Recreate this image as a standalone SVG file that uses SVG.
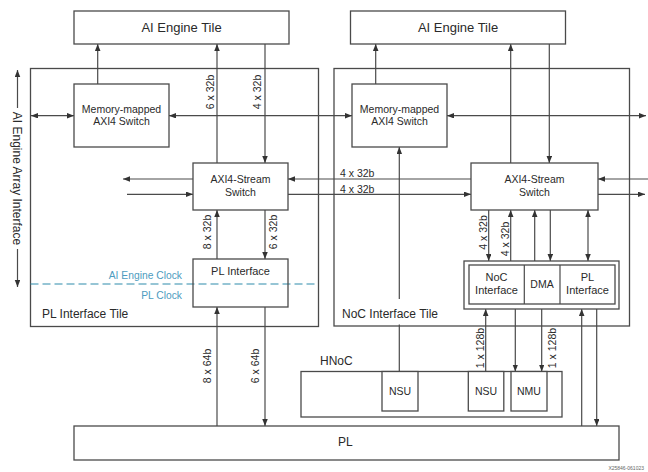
<svg xmlns="http://www.w3.org/2000/svg" width="648" height="472" viewBox="0 0 648 472">
<defs>
<marker id="ah" markerUnits="userSpaceOnUse" markerWidth="8" markerHeight="6" refX="7" refY="2.75" orient="auto-start-reverse"><path d="M0,0 L7,2.75 L0,5.5 z" fill="#333"/></marker>
</defs>
<style>
.box{fill:#fff;stroke:#4a4a4a;stroke-width:1.3}
.tile{fill:none;stroke:#4a4a4a;stroke-width:1.3}
.ln{fill:none;stroke:#4a4a4a;stroke-width:1.2}
.e{marker-end:url(#ah)}
.s{marker-start:url(#ah)}
text{font-family:"Liberation Sans",Arial,sans-serif;fill:#2a2a2a}
.c{text-anchor:middle}
.t13{font-size:13px}
.t12{font-size:12px}
.t11{font-size:11px}
.t10{font-size:10.5px}
.clk{font-size:10.3px;fill:#4d9cc0;text-anchor:end}
</style>
<rect width="648" height="472" fill="#fff"/>

<g id="pl-interface-tile"><rect class="tile" x="30.5" y="68.5" width="288" height="258"/><text class="t12" x="42" y="317.5">PL Interface Tile</text></g>
<g id="noc-interface-tile"><rect class="tile" x="334" y="68.5" width="295.5" height="257.5"/><text class="t12" x="342" y="318">NoC Interface Tile</text></g>

<g id="clock-boundary">
<line x1="30.5" y1="284" x2="318" y2="284" stroke="#2e8bab" stroke-width="1.1" stroke-dasharray="8,4"/>
<text class="clk" x="182" y="279.3">AI Engine Clock</text>
<text class="clk" x="182" y="299">PL Clock</text>
</g>

<g id="connectors">
<line class="ln e" x1="97.7" y1="84" x2="97.7" y2="44"/>
<line class="ln e" x1="217" y1="163" x2="217" y2="44"/>
<line class="ln e" x1="265" y1="44" x2="265" y2="163"/>
<line class="ln s e" x1="31" y1="115.7" x2="74" y2="115.7"/>
<line class="ln s e" x1="169" y1="115.7" x2="352" y2="115.7"/>
<line class="ln e" x1="193" y1="179" x2="123" y2="179"/>
<line class="ln e" x1="127" y1="194.3" x2="193" y2="194.3"/>
<line class="ln e" x1="471" y1="179" x2="288" y2="179"/>
<line class="ln e" x1="288" y1="194.3" x2="471" y2="194.3"/>
<line class="ln e" x1="217" y1="259" x2="217" y2="210"/>
<line class="ln e" x1="265" y1="210" x2="265" y2="259"/>
<line class="ln e" x1="217" y1="426" x2="217" y2="307"/>
<line class="ln e" x1="265" y1="307" x2="265" y2="426"/>
<line class="ln e" x1="375.7" y1="84" x2="375.7" y2="44"/>
<line class="ln e" x1="510.7" y1="163" x2="510.7" y2="44"/>
<line class="ln e" x1="549.3" y1="44" x2="549.3" y2="163"/>
<line class="ln s e" x1="447" y1="115.7" x2="646" y2="115.7"/>
<line class="ln e" x1="648" y1="179" x2="598" y2="179"/>
<line class="ln e" x1="598" y1="194.3" x2="645" y2="194.3"/>
<line class="ln e" x1="399.3" y1="299" x2="399.3" y2="147"/>
<line class="ln" x1="399.3" y1="324.5" x2="399.3" y2="371.5"/>
<line class="ln e" x1="488.7" y1="210" x2="488.7" y2="261"/>
<line class="ln e" x1="510.7" y1="261" x2="510.7" y2="210"/>
<line class="ln e" x1="534.7" y1="261" x2="534.7" y2="210"/>
<line class="ln e" x1="550.3" y1="210" x2="550.3" y2="261"/>
<line class="ln s e" x1="588" y1="210" x2="588" y2="261"/>
<line class="ln e" x1="485.7" y1="371.5" x2="485.7" y2="309"/>
<line class="ln e" x1="515.3" y1="309" x2="515.3" y2="371.5"/>
<line class="ln e" x1="541.7" y1="309" x2="541.7" y2="371.5"/>
<line class="ln e" x1="581.7" y1="426" x2="581.7" y2="309"/>
<line class="ln e" x1="596.7" y1="309" x2="596.7" y2="426"/>
<line class="ln s" x1="17.5" y1="70" x2="17.5" y2="108"/>
<line class="ln e" x1="17.5" y1="249" x2="17.5" y2="287"/>
</g>

<g id="labels">
<text class="t10 c" transform="translate(210,92) rotate(-90)" dy="3.7">6 x 32b</text>
<text class="t10 c" transform="translate(257,92) rotate(-90)" dy="3.7">4 x 32b</text>
<text class="t10 c" transform="translate(207,232) rotate(-90)" dy="3.7">8 x 32b</text>
<text class="t10 c" transform="translate(273,232) rotate(-90)" dy="3.7">6 x 32b</text>
<text class="t10 c" transform="translate(207.3,366) rotate(-90)" dy="3.7">8 x 64b</text>
<text class="t10 c" transform="translate(255.3,366) rotate(-90)" dy="3.7">6 x 64b</text>
<text class="t10" x="340" y="177">4 x 32b</text>
<text class="t10" x="340" y="192.5">4 x 32b</text>
<text class="t10 c" transform="translate(483,232.5) rotate(-90)" dy="3.7">4 x 32b</text>
<text class="t10 c" transform="translate(505,239) rotate(-90)" dy="3.7">4 x 32b</text>
<text class="t10 c" transform="translate(480,348) rotate(-90)" dy="3.7">1 x 128b</text>
<text class="t10 c" transform="translate(552.7,348) rotate(-90)" dy="3.7">1 x 128b</text>
<text class="t12 c" transform="translate(17.5,178.5) rotate(90)" dy="4.2">AI Engine Array Interface</text>
</g>

<g id="ai-engine-tile-left"><rect class="box" x="74" y="11" width="215" height="33"/><text class="t13 c" x="181.5" y="31.5">AI Engine Tile</text></g>
<g id="ai-engine-tile-right"><rect class="box" x="350.5" y="11" width="215" height="33"/><text class="t13 c" x="458" y="31.5">AI Engine Tile</text></g>

<g id="mm-switch-left"><rect class="box" x="74" y="84" width="95" height="63"/><text class="t10 c" x="121.5" y="112.7">Memory-mapped</text><text class="t10 c" x="121.5" y="124.7">AXI4 Switch</text></g>
<g id="mm-switch-right"><rect class="box" x="352" y="84" width="95" height="63"/><text class="t10 c" x="399.5" y="112.7">Memory-mapped</text><text class="t10 c" x="399.5" y="124.7">AXI4 Switch</text></g>

<g id="stream-switch-left"><rect class="box" x="193" y="163" width="95" height="47"/><text class="t10 c" x="240.5" y="183.4">AXI4-Stream</text><text class="t10 c" x="240.5" y="196.4">Switch</text></g>
<g id="stream-switch-right"><rect class="box" x="471" y="163" width="127" height="47"/><text class="t10 c" x="534.5" y="183.4">AXI4-Stream</text><text class="t10 c" x="534.5" y="196.4">Switch</text></g>

<g id="pl-interface-left"><rect class="box" x="193" y="259" width="95" height="48" fill-opacity="0"/><text class="t11 c" x="240.5" y="274.5">PL Interface</text></g>

<g id="noc-dma-pl">
<rect class="box" x="464" y="261" width="155" height="48"/>
<rect class="box" x="469" y="265" width="146" height="39"/>
<line class="ln" x1="524.3" y1="265" x2="524.3" y2="304"/>
<line class="ln" x1="560" y1="265" x2="560" y2="304"/>
<text class="t11 c" x="496.5" y="281">NoC</text><text class="t11 c" x="496.5" y="294">Interface</text>
<text class="t10 c" x="542" y="287.7">DMA</text>
<text class="t11 c" x="587.5" y="281">PL</text><text class="t11 c" x="587.5" y="294">Interface</text>
</g>

<g id="hnoc"><rect class="box" x="301" y="371.5" width="261" height="45.5"/><text class="t12" x="320" y="365">HNoC</text></g>
<g id="nsu-1"><rect class="box" x="382" y="371.5" width="36" height="39.5"/><text class="t10 c" x="400" y="394.5">NSU</text></g>
<g id="nsu-2"><rect class="box" x="468.3" y="371.5" width="35.5" height="39.5"/><text class="t10 c" x="486" y="394.5">NSU</text></g>
<g id="nmu"><rect class="box" x="511" y="371.5" width="36" height="39.5"/><text class="t10 c" x="529" y="394.5">NMU</text></g>

<g id="pl"><rect class="box" x="74" y="426" width="545" height="34"/><text class="t12" x="338" y="446">PL</text></g>

<text x="644" y="470" font-size="5" text-anchor="end" style="fill:#666">X25846-061023</text>
</svg>
